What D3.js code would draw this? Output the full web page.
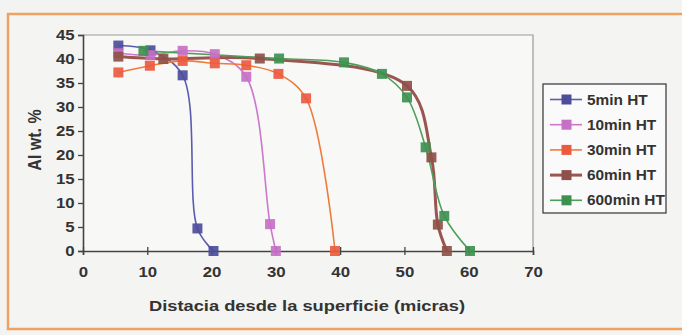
<!DOCTYPE html>
<html><head><meta charset="utf-8">
<script src="https://cdn.jsdelivr.net/npm/d3@7"></script>
<style>body{margin:0;background:#f3f3f1;}svg{display:block;}</style>
</head><body>
<svg id="c" width="682" height="335"></svg>
<script>
const seriesNames = ["5min HT","10min HT","30min HT","60min HT","600min HT"];
const lineColors = ["#5b5bb0","#cc77cc","#f07a3c","#9a5550","#4f9f5c"];
const markerColors = ["#4d4d9c","#c670c6","#ea5a3e","#8e5048","#3f9050"];
const s5x = [5.5,10.5,15.5,17.8,20.3];
const s5y = [42.8,41.8,36.6,4.7,0];
const s10x = [5.5,10.5,15.5,20.5,25.4,29.1,30.0];
const s10y = [41.2,40.8,41.7,41.0,36.3,5.6,0];
const s30x = [5.5,10.4,15.5,20.5,25.4,30.4,34.7,39.2];
const s30y = [37.2,38.6,39.6,39.1,38.7,36.9,31.8,0];
const s60x = [5.5,12.5,27.5,50.4,54.2,55.2,56.6];
const s60y = [40.5,40.0,40.1,34.4,19.5,5.5,0];
const s600x = [9.4,30.5,40.6,46.5,50.4,53.3,56.2,60.2];
const s600y = [41.7,40.1,39.3,36.9,32.0,21.6,7.3,0];
const xTicks = [0,10,20,30,40,50,60,70];
const yTicks = [0,5,10,15,20,25,30,35,40,45];
const xTitle = "Distacia desde la superficie (micras)";
const yTitle = "Al wt. %";

const allX = [s5x,s10x,s30x,s60x,s600x];
const allY = [s5y,s10y,s30y,s60y,s600y];
const data = allX.map((xs,i)=>xs.map((x,j)=>({x, y: allY[i][j]})));

const svg = d3.select("#c");
const L=83, R=533, T=35, B=251;
const x = d3.scaleLinear().domain([0,70]).range([L,R]);
const y = d3.scaleLinear().domain([0,45]).range([B,T]);

// outer orange frame
svg.append("rect").attr("x",8).attr("y",14).attr("width",700).attr("height",315)
  .attr("fill","#f4f4f2").attr("stroke","#f0a060").attr("stroke-width",2.5);
// plot area
svg.append("rect").attr("x",L).attr("y",T).attr("width",R-L).attr("height",B-T)
  .attr("fill","#f8f8f7").attr("stroke","none");
svg.append("path").attr("d",`M${L},${T}H${R}V${B}`).attr("fill","none")
  .attr("stroke","#999").attr("stroke-width",1.2);

const font = "Liberation Sans, Arial, sans-serif";
// axes
const xAxis = svg.append("g").attr("transform",`translate(0,${B})`)
  .call(d3.axisBottom(x).tickValues(xTicks).tickSize(4).tickPadding(12));
const yAxis = svg.append("g").attr("transform",`translate(${L},0)`)
  .call(d3.axisLeft(y).tickValues(yTicks).tickSize(5).tickPadding(2));
[xAxis,yAxis].forEach(g=>{
  g.select(".domain").attr("stroke","#444").attr("stroke-width",1.6);
  g.selectAll(".tick line").attr("stroke","#444").attr("stroke-width",1.3);
  g.selectAll(".tick text").attr("fill","#333").attr("font-family",font)
    .attr("font-weight","bold").attr("font-size",14).attr("transform","scale(1.2,1)");
});
xAxis.selectAll(".tick line").attr("y1",-4);

// lines
const line = d3.line().x(d=>x(d.x)).y(d=>y(d.y)).curve(d3.curveCatmullRom.alpha(0.5));
const widths = [1.6,1.6,1.6,3,1.6];
data.forEach((s,i)=>{
  svg.append("path").datum(s).attr("d",line).attr("fill","none")
    .attr("stroke",lineColors[i]).attr("stroke-width",widths[i]);
});
const ms = 10;
[0,1,2,3,4].forEach(i=>{
  svg.append("g").selectAll("rect").data(data[i]).join("rect")
    .attr("x",d=>x(d.x)-ms/2).attr("y",d=>y(d.y)-ms/2)
    .attr("width",ms).attr("height",ms)
    .attr("fill",markerColors[i]).attr("opacity",0.92);
});

// titles
svg.append("text").attr("transform","translate(307,311) scale(1.22,1)").attr("text-anchor","middle")
  .attr("font-family",font).attr("font-weight","bold").attr("font-size",15)
  .attr("fill","#333").text(xTitle);
svg.append("text").attr("transform","translate(41,140) rotate(-90) scale(1,1.2)").attr("text-anchor","middle")
  .attr("font-family",font).attr("font-weight","bold").attr("font-size",16)
  .attr("fill","#333").text(yTitle);

// legend
const lg = svg.append("g");
lg.append("rect").attr("x",543).attr("y",84).attr("width",123).attr("height",129)
  .attr("fill","#fafafa").attr("stroke","#333").attr("stroke-width",1.2);
seriesNames.forEach((n,i)=>{
  const cy = 99.5 + i*25.2;
  lg.append("line").attr("x1",550).attr("x2",582).attr("y1",cy).attr("y2",cy)
    .attr("stroke",lineColors[i]).attr("stroke-width",widths[i]);
  lg.append("rect").attr("x",566.5-5).attr("y",cy-5).attr("width",10).attr("height",10)
    .attr("fill",markerColors[i]);
  lg.append("text").attr("transform",`translate(587,${cy+5}) scale(1.1,1)`).attr("font-family",font)
    .attr("font-weight","bold").attr("font-size",14).attr("fill","#333").text(n);
});
</script>
</body></html>
